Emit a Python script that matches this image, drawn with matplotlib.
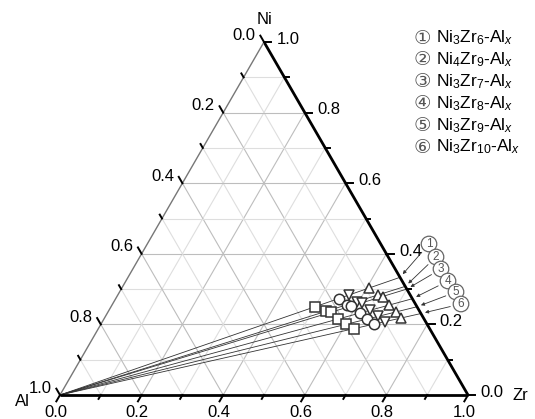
import matplotlib.pyplot as plt
import numpy as np

plt.rcParams['font.family'] = ['Liberation Sans', 'DejaVu Sans', 'Noto Sans CJK SC']
plt.rcParams['mathtext.fontset'] = 'custom'
plt.rcParams['mathtext.rm'] = 'Liberation Sans'
plt.rcParams['mathtext.it'] = 'Liberation Sans:italic'

# alloy series Ni_a Zr_b - Al_x
ni_atoms = [3, 4, 3, 3, 3, 3]
zr_atoms = [6, 9, 7, 8, 9, 10]
circled = ['①', '②', '③', '④', '⑤', '⑥']
names = [r'Ni$_3$Zr$_6$-Al$_x$', r'Ni$_4$Zr$_9$-Al$_x$', r'Ni$_3$Zr$_7$-Al$_x$',
         r'Ni$_3$Zr$_8$-Al$_x$', r'Ni$_3$Zr$_9$-Al$_x$', r'Ni$_3$Zr$_{10}$-Al$_x$']

al_square = [0.25, 0.23, 0.22, 0.21, 0.20, 0.185]
al_circle = [0.18, 0.17, 0.16, 0.15, 0.14, 0.13]
al_tridown = [0.15, 0.14, 0.13, 0.12, 0.11, 0.10]
al_triup = [0.09, 0.08, 0.07, 0.065, 0.06, 0.055]

ticks = [0.0, 0.2, 0.4, 0.6, 0.8, 1.0]
minor = [0.1, 0.3, 0.5, 0.7, 0.9]

H = np.sqrt(3) / 2


def tern(ni, zr):
    ni = np.asarray(ni, float)
    zr = np.asarray(zr, float)
    return zr + ni / 2, ni * H


fig = plt.figure(figsize=(5.35, 4.19), dpi=100)
ax = fig.add_axes([60 / 535, 24 / 419, 408 / 535, 353 / 419])
ax.set_xlim(0, 1)
ax.set_ylim(0, H)
ax.axis('off')

# grid
for v in np.arange(1, 10) / 10:
    col = '#bdbdbd' if round(v * 10) % 2 == 0 else '#dedede'
    for a, b in [((v, 0), (v, 1 - v)), ((0, v), (1 - v, v)), ((0, 1 - v), (1 - v, 0))]:
        x, y = tern([a[0], b[0]], [a[1], b[1]])
        ax.plot(x, y, color=col, lw=0.8, zorder=1)

# edges
x, y = tern([0, 0], [0, 1])
ax.plot(x, y, color='k', lw=2, zorder=4, clip_on=False, solid_capstyle='butt')
x, y = tern([0, 1], [1, 0])
ax.plot(x, y, color='k', lw=2, zorder=4, clip_on=False, solid_capstyle='butt')
x, y = tern([0, 1], [0, 0])
ax.plot(x, y, color='#777777', lw=1, zorder=4, clip_on=False)

# ticks
dirs = {'bottom': (-0.5, -H), 'right': (1.0, 0.0), 'left': (-0.5, H)}
for vals, L in [(ticks, 0.018), (minor, 0.011)]:
    for v in vals:
        for side in ['bottom', 'right', 'left']:
            if side == 'bottom':
                bx, by = tern(0, v)
            elif side == 'right':
                bx, by = tern(v, 1 - v)
            else:
                bx, by = tern(1 - v, 0)
            dx, dy = dirs[side]
            ax.plot([bx, bx + dx * L], [by, by + dy * L], color='k', lw=1.4,
                    clip_on=False, zorder=5)

fs = 12
for v in ticks:
    bx, by = tern(0, v)
    ax.annotate('%.1f' % v, (bx, by), xytext=(-3, -7), textcoords='offset points',
                ha='center', va='top', fontsize=fs)
    bx, by = tern(v, 1 - v)
    ax.annotate('%.1f' % v, (bx, by), xytext=(9, 2), textcoords='offset points',
                ha='left', va='center', fontsize=fs)
    bx, by = tern(1 - v, 0)
    ax.annotate('%.1f' % v, (bx, by), xytext=(-6, 5), textcoords='offset points',
                ha='right', va='center', fontsize=fs)

# corner labels
bx, by = tern(1, 0)
ax.annotate('Ni', (bx, by), xytext=(0, 16), textcoords='offset points',
            ha='center', va='center', fontsize=fs)
bx, by = tern(0, 0)
ax.annotate('Al', (bx, by), xytext=(-27, -5), textcoords='offset points',
            ha='center', va='center', fontsize=fs)
bx, by = tern(0, 1)
ax.annotate('Zr', (bx, by), xytext=(38, 0), textcoords='offset points',
            ha='center', va='center', fontsize=fs)

# composition lines and alloys
for i in range(6):
    r = ni_atoms[i] / (ni_atoms[i] + zr_atoms[i])
    x, y = tern([0, r], [0, 1 - r])
    ax.plot(x, y, color='#333333', lw=0.6, zorder=2, clip_on=False)
    for al, m in [(al_square, 's'), (al_circle, 'o'), (al_tridown, 'v'), (al_triup, '^')]:
        a = al[i]
        px, py = tern((1 - a) * r, (1 - a) * (1 - r))
        ax.plot(px, py, marker=m, ms=7.5, mfc='white', mec='#333333', mew=1.1,
                ls='none', zorder=3)
    # circled label with arrow
    ex, ey = tern(r, 1 - r)
    lx = [429, 436, 441, 448, 456, 461][i]
    ly = [244, 257, 269, 281, 292, 304][i]
    ax.annotate(str(i + 1), (ex, ey), xytext=(lx, 419 - ly), textcoords='figure pixels',
                ha='center', va='center', fontsize=8.5, color='#555555',
                bbox=dict(boxstyle='circle,pad=0.15', fc='white', ec='#666666', lw=0.9),
                arrowprops=dict(arrowstyle='-|>', color='#333333', lw=0.6,
                                mutation_scale=5, shrinkB=3))

# legend
for i in range(6):
    y = 1 - (38 + i * 21.8) / 419
    fig.text(422 / 535, y, circled[i], ha='center', va='center', fontsize=14,
             color='#555555', family=['DejaVu Sans', 'Noto Sans CJK SC'])
    fig.text(436 / 535, y, names[i], ha='left', va='center', fontsize=12.5)

fig.savefig('out.png', dpi=100)
